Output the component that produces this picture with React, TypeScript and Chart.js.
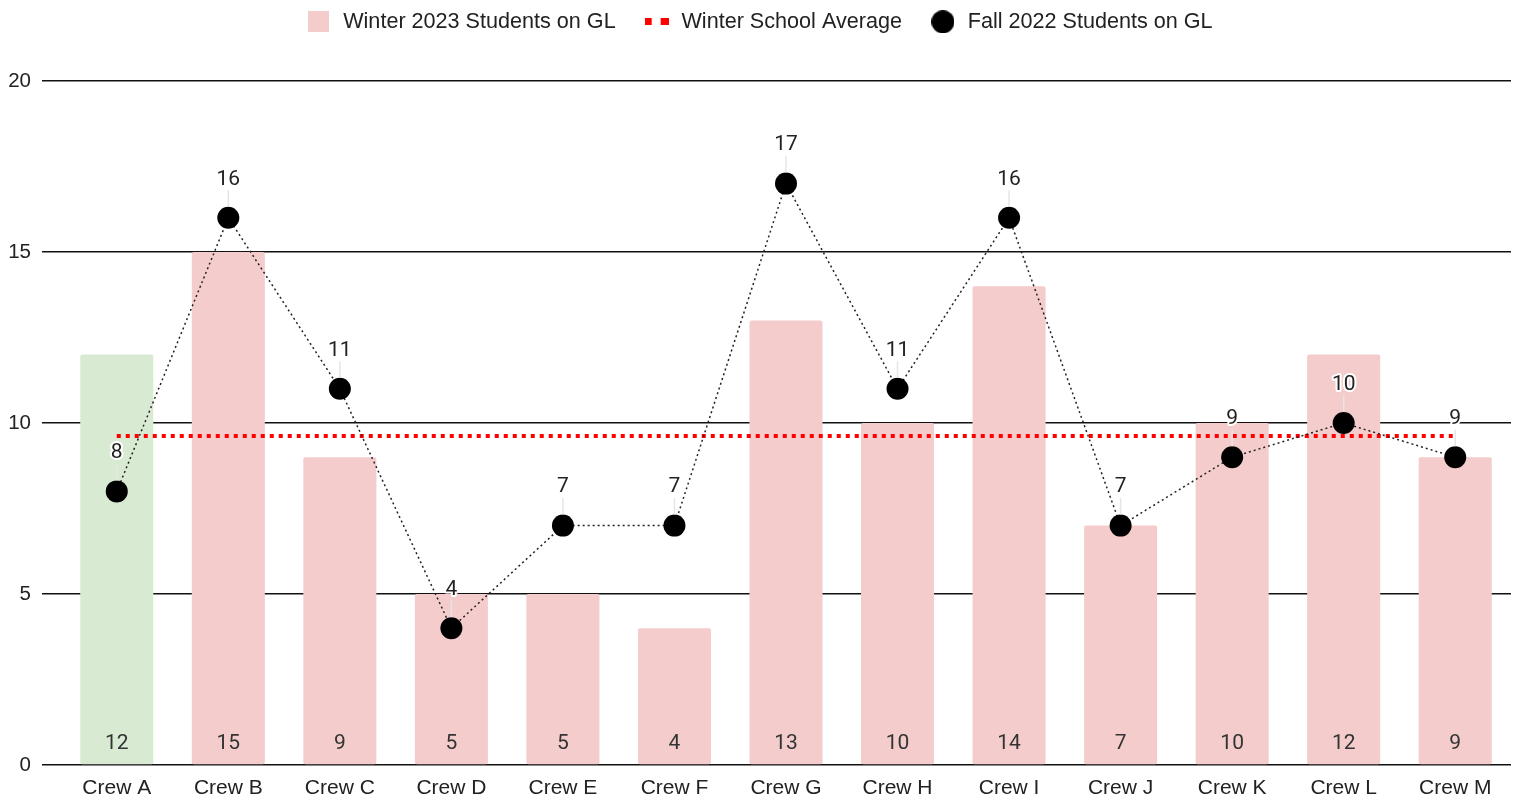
import React, { useEffect, useRef } from "react";
import { Chart, registerables } from "chart.js";

Chart.register(...registerables);

const categories = ["Crew A", "Crew B", "Crew C", "Crew D", "Crew E", "Crew F", "Crew G", "Crew H", "Crew I", "Crew J", "Crew K", "Crew L", "Crew M"];
const winter2023 = [12, 15, 9, 5, 5, 4, 13, 10, 14, 7, 10, 12, 9];
const winterAverage = [9.62, 9.62, 9.62, 9.62, 9.62, 9.62, 9.62, 9.62, 9.62, 9.62, 9.62, 9.62, 9.62];
const fall2022 = [8, 16, 11, 4, 7, 7, 17, 11, 16, 7, 9, 10, 9];
const yTicks = [0, 5, 10, 15, 20];
const seriesNames = ["Winter 2023 Students on GL", "Winter School Average", "Fall 2022 Students on GL"];

const PINK = "#f4cccc";
const GREEN = "#d9ead3";
const RED = "#ff0000";
const LABEL_FONT = "Roboto";
const AXIS_FONT = "'Liberation Sans', Arial, sans-serif";

function makeCanvas(w: number, h: number, draw: (c: CanvasRenderingContext2D) => void) {
  const cv = document.createElement("canvas");
  cv.width = w;
  cv.height = h;
  const c = cv.getContext("2d")!;
  draw(c);
  return cv;
}

const labelPlugin = {
  id: "valueLabels",
  afterDatasetsDraw(chart: any) {
    const ctx = chart.ctx as CanvasRenderingContext2D;
    ctx.save();
    ctx.font = `21px ${LABEL_FONT}`;
    ctx.textAlign = "center";
    ctx.textBaseline = "middle";
    const barMeta = chart.getDatasetMeta(0);
    barMeta.data.forEach((el: any, i: number) => {
      ctx.fillStyle = "#333333";
      ctx.fillText(String(winter2023[i]), el.x, el.base - 20.5);
    });
    const ptMeta = chart.getDatasetMeta(2);
    ptMeta.data.forEach((el: any, i: number) => {
      const ly = el.y - 38.5;
      ctx.strokeStyle = "#e6e6e6";
      ctx.lineWidth = 1.5;
      ctx.beginPath();
      ctx.moveTo(el.x, ly + 11);
      ctx.lineTo(el.x, el.y - 11);
      ctx.stroke();
      ctx.lineWidth = 4;
      ctx.lineJoin = "round";
      ctx.strokeStyle = "#ffffff";
      ctx.strokeText(String(fall2022[i]), el.x, ly);
      ctx.fillStyle = "#222222";
      ctx.fillText(String(fall2022[i]), el.x, ly);
    });
    ctx.restore();
  },
};

const legendTweak = {
  id: "legendTweak",
  beforeInit(chart: any) {
    const legend = chart.legend;
    if (!legend) return;
    const origFit = legend.fit;
    legend.fit = function () {
      origFit.call(this);
      this.height = 81;
    };
    const origDraw = legend.draw;
    legend.draw = function () {
      const ctx = chart.ctx;
      ctx.save();
      ctx.translate(3, -16);
      origDraw.call(this);
      ctx.restore();
    };
  },
};

export default function App() {
  const ref = useRef<HTMLCanvasElement | null>(null);
  useEffect(() => {
    document.body.style.margin = "0";
    document.body.style.overflow = "hidden";
    const pinkBox = makeCanvas(21, 21, (c) => {
      c.fillStyle = PINK;
      c.fillRect(0, 0, 21, 21);
    });
    const redDots = makeCanvas(24, 7, (c) => {
      c.fillStyle = RED;
      c.fillRect(0, 0, 7, 7);
      c.fillRect(16, 0, 8, 7);
    });
    const blackDot = makeCanvas(23, 23, (c) => {
      c.fillStyle = "#000";
      c.beginPath();
      c.arc(11.5, 11.5, 11.5, 0, Math.PI * 2);
      c.fill();
    });
    const styles = [pinkBox, redDots, blackDot];

    const chart = new Chart(ref.current!, {
      type: "bar",
      data: {
        labels: categories,
        datasets: [
          {
            type: "bar",
            label: seriesNames[0],
            data: winter2023,
            backgroundColor: (c: any) => (c.dataIndex === 0 ? GREEN : PINK),
            borderRadius: 2,
            borderSkipped: false,
            barPercentage: 0.655,
            categoryPercentage: 1,
            order: 3,
          },
          {
            type: "line",
            label: seriesNames[1],
            data: winterAverage,
            borderColor: RED,
            borderWidth: 4,
            borderDash: [4, 5],
            pointRadius: 0,
            fill: false,
            order: 2,
          },
          {
            type: "line",
            label: seriesNames[2],
            data: fall2022,
            borderColor: "#222",
            borderWidth: 1.5,
            borderDash: [2, 3],
            pointRadius: 11,
            pointBackgroundColor: "#000",
            pointBorderWidth: 0,
            fill: false,
            tension: 0,
            order: 1,
          },
        ] as any,
      },
      options: {
        animation: false,
        responsive: true,
        maintainAspectRatio: false,
        layout: { autoPadding: false, padding: { left: 0, right: 3, top: 0, bottom: 0 } },
        plugins: {
          tooltip: { enabled: false },
          legend: {
            position: "top",
            labels: {
              usePointStyle: true,
              pointStyleWidth: 28,
              padding: 27,
              color: "#222",
              font: { family: AXIS_FONT, size: 21.6 },
              generateLabels: () =>
                seriesNames.map((name, i) => ({
                  text: name,
                  pointStyle: styles[i] as any,
                  datasetIndex: i,
                  fillStyle: "transparent",
                  strokeStyle: "transparent",
                  lineWidth: 0,
                  hidden: false,
                  fontColor: "#222",
                })),
            },
          },
        },
        scales: {
          x: {
            grid: { display: false, drawTicks: false },
            border: { display: false },
            ticks: { color: "#222", font: { family: AXIS_FONT, size: 21 }, padding: 11 },
            afterFit: (s: any) => {
              s.height = 36;
              s.paddingLeft = 0;
              s.paddingRight = 0;
            },
          },
          y: {
            min: yTicks[0],
            max: yTicks[yTicks.length - 1],
            border: { display: false },
            grid: { color: "#111", lineWidth: 1.5, tickLength: 19, drawTicks: true },
            afterBuildTicks: (scale: any) => {
              scale.ticks = yTicks.map((v) => ({ value: v }));
            },
            afterFit: (s: any) => {
              s.width = 61;
              s.paddingTop = 0;
              s.paddingBottom = 0;
            },
            ticks: { color: "#222", font: { family: AXIS_FONT, size: 20.5 }, padding: 11 },
          },
        },
      } as any,
      plugins: [labelPlugin, legendTweak],
    });
    return () => chart.destroy();
  }, []);

  return (
    <div style={{ width: 1514, height: 801, position: "relative", overflow: "hidden" }}>
      <canvas ref={ref} style={{ display: "block" }} />
    </div>
  );
}
